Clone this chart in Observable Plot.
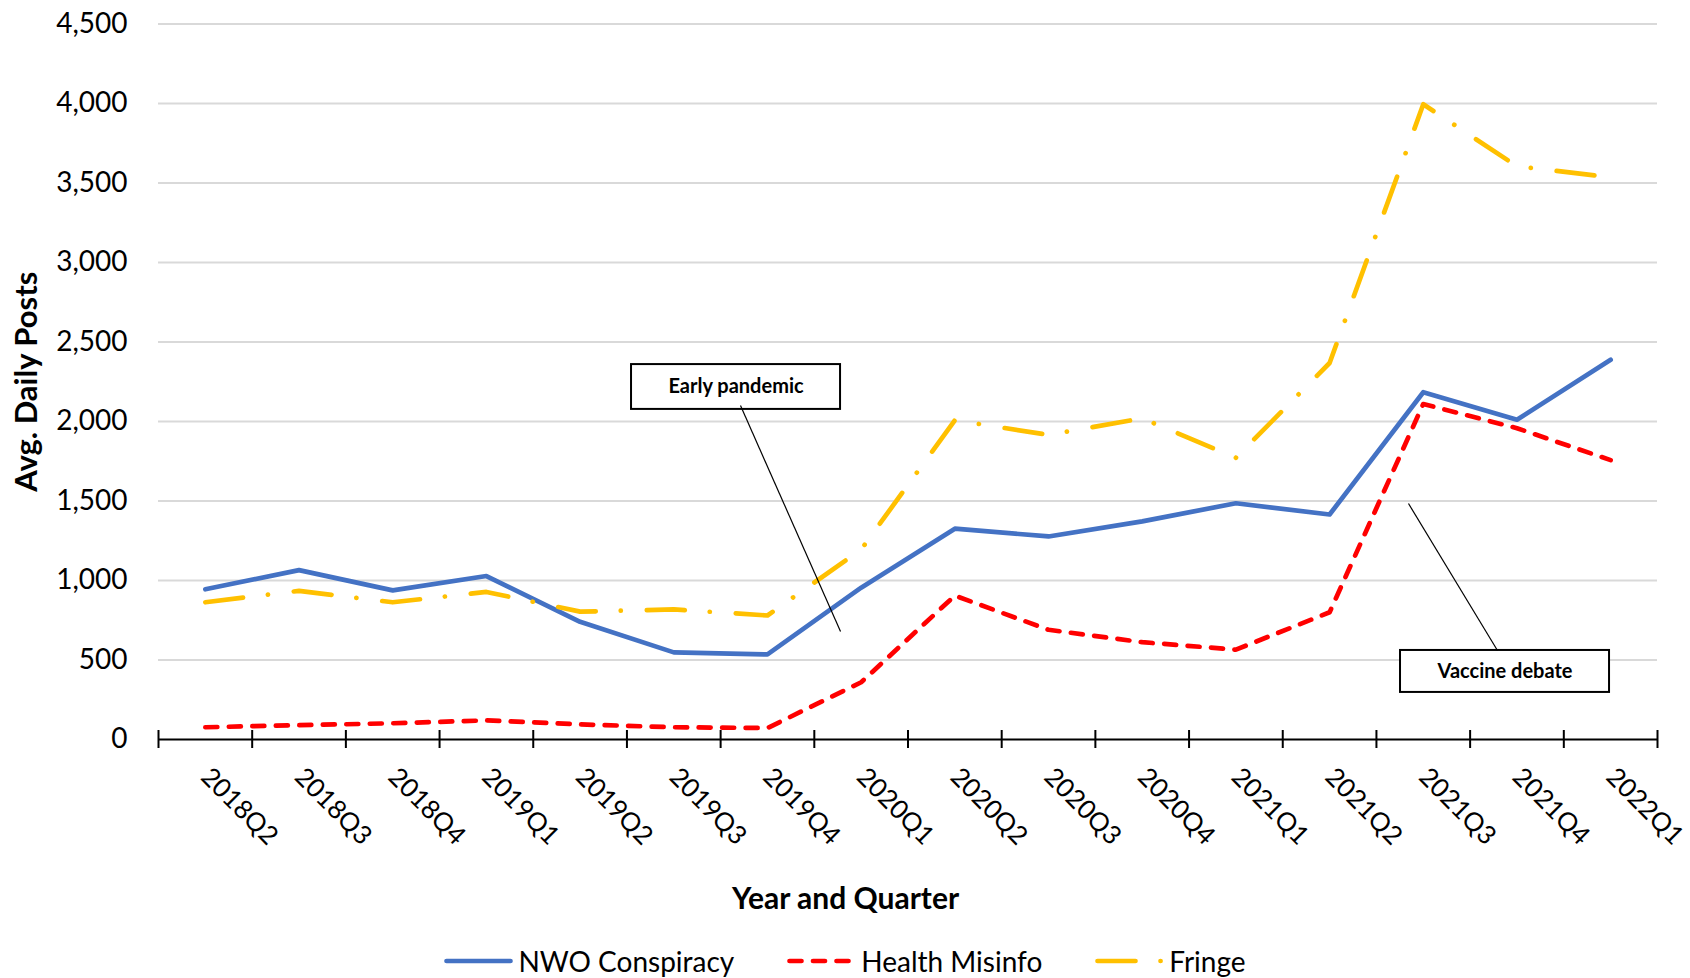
<!DOCTYPE html>
<html>
<head>
<meta charset="utf-8">
<script src="https://cdn.jsdelivr.net/npm/d3@7"></script>
<script src="https://cdn.jsdelivr.net/npm/@observablehq/plot@0.6"></script>
<style>
  body { margin: 0; background: #fff; font-family: Lato, "Open Sans", sans-serif; }
  #chart svg { display: block; overflow: visible; }
  #legend { display: flex; justify-content: center; align-items: center; height: 40px; padding-top: 11px; gap: 53px; font-size: 28px; line-height: 1; color: #000; }
  .item { display: flex; align-items: center; }
  .item svg { margin-right: 5px; display: block; }
</style>
</head>
<body>
<div id="chart"></div>
<div id="legend"></div>
<script>
// ---- data ----
const quarters = ["2018Q2","2018Q3","2018Q4","2019Q1","2019Q2","2019Q3","2019Q4","2020Q1",
                  "2020Q2","2020Q3","2020Q4","2021Q1","2021Q2","2021Q3","2021Q4","2022Q1"];
const nwo    = [945, 1065, 938, 1028, 740, 548, 535, 955, 1326, 1277, 1372, 1486, 1415, 2184, 2011, 2388];
const health = [77, 90, 102, 120, 95, 77, 72, 360, 905, 690, 612, 565, 800, 2110, 1958, 1757];
const fringe = [863, 935, 863, 928, 804, 818, 780, 1195, 2008, 1916, 2020, 1772, 2368, 3995, 3605, 3536];
const seriesNames = ["NWO Conspiracy", "Health Misinfo", "Fringe"];
const yTicks = [0, 500, 1000, 1500, 2000, 2500, 3000, 3500, 4000, 4500];
const annotationLabels = ["Early pandemic", "Vaccine debate"];

// ---- styles ----
const colors = ["#4472C4", "#FF0000", "#FFC000"];
const dashes = [null, "12,11.5", "38,25,0.1,26"];
const seriesValues = [nwo, health, fringe];

// annotation anchors in data space (index / value)
const annotations = [
  {label: annotationLabels[0], x1: 4.549, x2: 6.78, y1: 2076, y2: 2358, tx: 5.664, ty: 2217, lx1: 5.712, ly1: 2100, lx2: 6.78, ly2: 679},
  {label: annotationLabels[1], x1: 12.757, x2: 14.988, y1: 296, y2: 560, tx: 13.872, ty: 428, lx1: 12.842, ly1: 1484, lx2: 13.792, ly2: 560}
];

const rows = seriesNames.flatMap((name, s) =>
  seriesValues[s].map((v, i) => ({i, q: quarters[i], v, name})));

const chart = Plot.plot({
  width: 1690,
  height: 930,
  marginLeft: 158,
  marginRight: 33,
  marginTop: 23.5,
  marginBottom: 191,
  style: {fontFamily: "Lato, 'Open Sans', sans-serif", fontSize: "28px", color: "#000", background: "#fff", overflow: "visible"},
  x: {domain: [-0.5, quarters.length - 0.5]},
  y: {domain: [0, 4500]},
  marks: [
    Plot.gridY(yTicks.filter(d => d > 0), {stroke: "#d9d9d9", strokeOpacity: 1, strokeWidth: 2}),
    Plot.axisY(yTicks, {tickSize: 0, tickPadding: 31, tickFormat: d3.format(","), label: null}),
    Plot.axisX(d3.range(quarters.length), {tickSize: 0, tickPadding: 33, tickRotate: 45, tickFormat: i => quarters[i], fontSize: 26, label: null}),
    Plot.ruleY([0], {stroke: "#000", strokeWidth: 2}),
    Plot.ruleX(d3.range(quarters.length + 1), {x: d => d - 0.5, y1: 0, y2: 0, insetTop: -9, insetBottom: -9, stroke: "#000", strokeWidth: 2}),
    ...seriesNames.map((name, s) => Plot.line(rows.filter(r => r.name === name), {
      x: "i", y: "v", stroke: colors[s], strokeWidth: 4.7,
      strokeDasharray: dashes[s], strokeLinecap: "round", strokeLinejoin: "round"
    })),
    Plot.rect(annotations, {x1: "x1", x2: "x2", y1: "y1", y2: "y2", fill: "#fff", stroke: "#000", strokeWidth: 2}),
    Plot.link(annotations, {x1: "lx1", y1: "ly1", x2: "lx2", y2: "ly2", stroke: "#000", strokeWidth: 1.2}),
    Plot.text(annotations, {x: "tx", y: "ty", text: "label", fontWeight: "bold", fontSize: 20, fill: "#000"}),
    Plot.text(["Avg. Daily Posts"], {text: d => d, frameAnchor: "left", textAnchor: "middle", rotate: -90, dx: -131, fontWeight: "bold", fontSize: 31, fill: "#000"}),
    Plot.text(["Year and Quarter"], {text: d => d, frameAnchor: "bottom", textAnchor: "middle", dx: -62.5, dy: 169, fontWeight: "bold", fontSize: 30, fill: "#000"})
  ]
});
document.getElementById("chart").appendChild(chart);

// legend
const legend = d3.select("#legend");
seriesNames.forEach((name, s) => {
  const item = legend.append("div").attr("class", "item");
  const sw = item.append("svg").attr("width", 69).attr("height", 12);
  sw.append("line").attr("x1", 2.5).attr("x2", 66.5).attr("y1", 6).attr("y2", 6)
    .attr("stroke", colors[s]).attr("stroke-width", 4.7).attr("stroke-linecap", "round")
    .attr("stroke-dasharray", dashes[s]);
  item.append("span").text(name);
});
</script>
</body>
</html>
